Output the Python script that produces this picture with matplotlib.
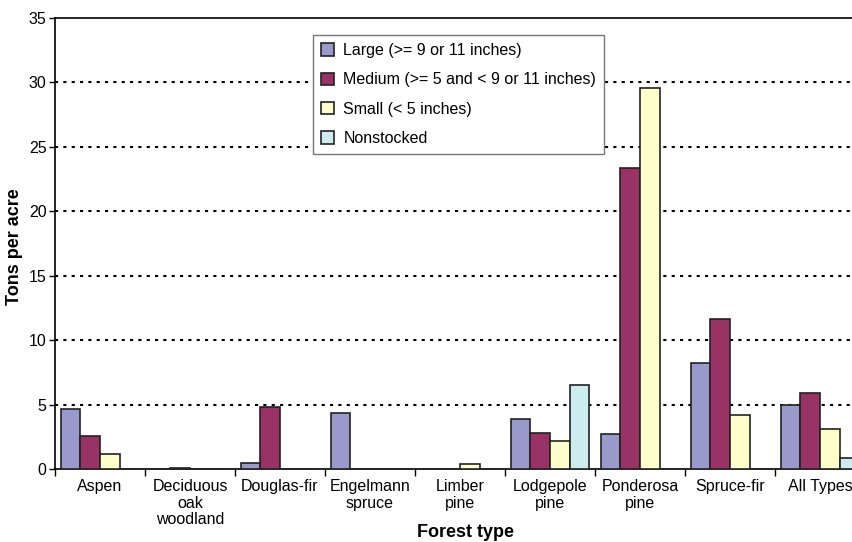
import matplotlib
matplotlib.use('Agg')
import matplotlib.pyplot as plt
import numpy as np

plt.rcParams['font.family'] = ['Liberation Sans', 'DejaVu Sans']

# data
forest_types = ['Aspen', 'Deciduous\noak\nwoodland', 'Douglas-fir', 'Engelmann\nspruce',
                'Limber\npine', 'Lodgepole\npine', 'Ponderosa\npine', 'Spruce-fir', 'All Types']
large = [4.63, 0, 0.44, 4.35, 0, 3.9, 2.72, 8.25, 4.94]
medium = [2.59, 0.1, 4.81, 0, 0, 2.77, 23.34, 11.67, 5.92]
small = [1.19, 0, 0, 0, 0.36, 2.2, 29.6, 4.19, 3.13]
nonstocked = [0, 0, 0, 0, 0, 6.5, 0, 0, 0.88]

series = [large, medium, small, nonstocked]
labels = ['Large (>= 9 or 11 inches)', 'Medium (>= 5 and < 9 or 11 inches)',
          'Small (< 5 inches)', 'Nonstocked']
colors = ['#9999CC', '#993366', '#FFFFCC', '#CCECF0']

fig = plt.figure(figsize=(8.52, 5.42), dpi=100)
ax = fig.add_axes([55 / 852, 73 / 542, 810 / 852, 451 / 542])

x = np.arange(len(forest_types))
w = 0.217
for i, (vals, lab, col) in enumerate(zip(series, labels, colors)):
    pos = x - 1.5 * w + i * w
    ax.bar(pos, vals, width=w, color=col, edgecolor='#222222', linewidth=1.2, label=lab, zorder=3)

ax.set_xlim(-0.5, len(forest_types) - 0.5)
ax.set_ylim(0, 35)
ax.set_yticks(range(0, 36, 5))
for yv in range(5, 35, 5):
    ax.axhline(yv, color='black', linestyle=(0, (1.5, 2.5)), linewidth=1.5, zorder=1)

ax.set_xticks(x)
ax.set_xticklabels(forest_types, fontsize=11.5, linespacing=1.15)
ax.set_xticks(np.arange(-0.5, len(forest_types)), minor=True)
ax.tick_params(axis='x', which='major', length=0, pad=7)
ax.tick_params(axis='x', which='minor', length=5, width=1, direction='out')
ax.tick_params(axis='y', labelsize=11.5, length=4, width=1, direction='out', pad=2)

for s in ['left', 'bottom', 'top']:
    ax.spines[s].set_linewidth(1.2)
ax.spines['right'].set_visible(False)

ax.set_xlabel('Forest type', fontsize=13, fontweight='bold')
ax.xaxis.set_label_coords(0.507, -0.122)
ax.set_ylabel('Tons per acre', fontsize=13, fontweight='bold')
ax.yaxis.set_label_coords(-0.04, 0.492)

leg = ax.legend(loc='upper left', bbox_to_anchor=(313 / 852, 1 - 35 / 542),
                bbox_transform=fig.transFigure, fontsize=11.5, frameon=True, fancybox=False,
                framealpha=1, edgecolor='#777777', handlelength=0.8, handleheight=0.8,
                handletextpad=0.6, labelspacing=0.9, borderpad=0.5, borderaxespad=0)
leg.get_frame().set_linewidth(1.0)
leg.set_zorder(5)

fig.savefig('out.png', dpi=100)
